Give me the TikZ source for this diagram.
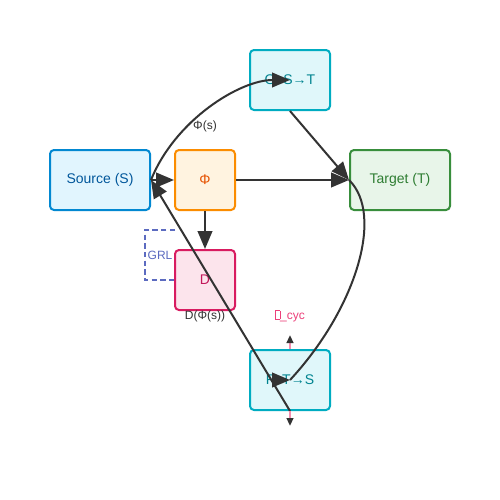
\documentclass[tikz,border=0pt]{standalone}
\usepackage{fontspec}
\setmainfont{Liberation Sans}
\usetikzlibrary{arrows.meta,calc}
\definecolor{edgec}{HTML}{333333}
\definecolor{srcfill}{HTML}{E1F5FE}\definecolor{srcdraw}{HTML}{0288D1}\definecolor{srctext}{HTML}{01579B}
\definecolor{phifill}{HTML}{FFF3E0}\definecolor{phidraw}{HTML}{FB8C00}\definecolor{phitext}{HTML}{E65100}
\definecolor{genfill}{HTML}{E0F7FA}\definecolor{gendraw}{HTML}{00ACC1}\definecolor{gentext}{HTML}{00838F}
\definecolor{tgtfill}{HTML}{E8F5E9}\definecolor{tgtdraw}{HTML}{388E3C}\definecolor{tgttext}{HTML}{2E7D32}
\definecolor{dfill}{HTML}{FCE4EC}\definecolor{ddraw}{HTML}{D81B60}\definecolor{dtext}{HTML}{C2185B}
\definecolor{grlc}{HTML}{5C6BC0}
\definecolor{cycc}{HTML}{EC407A}
\definecolor{cycline}{HTML}{F48FB1}
\newcommand{\tofubox}{{\fboxsep=0pt\fboxrule=0.45pt\fbox{\rule{0pt}{6pt}\hspace{2.8pt}}}}
\begin{document}
\begin{tikzpicture}[x=0.75pt,y=-0.75pt,
  box/.style={draw, rounded corners=3pt, line width=1.5pt, inner sep=0pt,
    font=\fontsize{10.5}{12}\selectfont},
  lbl/.style={font=\fontsize{9}{11}\selectfont, inner sep=0pt},
  arr/.style={draw=edgec, line width=1.5pt, -{Triangle[length=13.5pt,width=11pt]}},
  plain/.style={draw=edgec, line width=1.5pt},
  small/.style={draw=cycline, line width=1.5pt, -{Triangle[length=6pt,width=5pt,color=edgec]}}
]
\useasboundingbox (0,0) rectangle (500,500);
\fill[white] (0,0) rectangle (500,500);

% GRL bracket
\draw[grlc, line width=1.2pt, dash pattern=on 4pt off 2.5pt] (175,230) -- (145,230) -- (145,280) -- (175,280);
\node[lbl, text=grlc] (grl) at (160,255) {GRL};

% nodes
\node[box, fill=srcfill, draw=srcdraw, text=srctext, minimum width=75pt, minimum height=45pt] (S) at (100,180) {Source (S)};
\node[box, fill=phifill, draw=phidraw, text=phitext, minimum width=45pt, minimum height=45pt] (Phi) at (205,180) {Φ};
\node[box, fill=genfill, draw=gendraw, text=gentext, minimum width=60pt, minimum height=45pt] (G) at (290,80) {G: S→T};
\node[box, fill=tgtfill, draw=tgtdraw, text=tgttext, minimum width=75pt, minimum height=45pt] (T) at (400,180) {Target (T)};
\node[box, fill=dfill, draw=ddraw, text=dtext, minimum width=45pt, minimum height=45pt] (D) at (205,280) {D};
\node[box, fill=genfill, draw=gendraw, text=gentext, minimum width=60pt, minimum height=45pt] (F) at (290,380) {F: T→S};

% labels
\node[lbl, text=edgec] (phis) at (205,126) {Φ(s)};
\node[lbl, text=edgec] (dphis) at (205,316) {D(Φ(s))};
\node[lbl, text=cycc] (lcyc) at (290,316) {\tofubox\_cyc};

% coordinates
\coordinate (cycup) at (290,335);
\coordinate (cycdown) at (290,426);
\coordinate (fin) at (274,380);

% edges
\draw[arr] (S.east) -- (Phi.west);
\draw[arr] (Phi.east) -- (T.west);
\draw[arr] (Phi.south) -- (D.north);
\draw[arr] (G.south) -- (T.west);
\draw[arr] (S.east) .. controls (175,120) and (240,80) .. (G.center);
\draw[plain] (T.west) .. controls (385,215) and (355,310) .. (F.center);
\draw[arr] (fin) -- (F.center);
\draw[arr] (F.south) -- (S.east);
\draw[small] (F.north) -- (cycup);
\draw[small] (F.south) -- (cycdown);
\end{tikzpicture}
\end{document}
